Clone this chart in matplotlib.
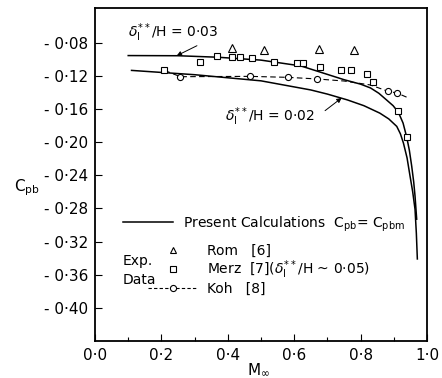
import matplotlib
matplotlib.use('Agg')

import numpy as np
import matplotlib.pyplot as plt
from matplotlib.lines import Line2D

# present calculations, delta/H = 0.03 (upper) and 0.02 (lower)
m_03 = [0.10, 0.25, 0.37, 0.50, 0.62, 0.75, 0.80, 0.83, 0.855, 0.878, 0.898, 0.914,
        0.928, 0.939, 0.947, 0.954, 0.960, 0.964, 0.969]
cpb_03 = [-0.0955, -0.0957, -0.0975, -0.101, -0.108, -0.1246, -0.130, -0.1346, -0.141,
          -0.149, -0.156, -0.164, -0.177, -0.194, -0.210, -0.229, -0.248, -0.265, -0.293]
m_02 = [0.11, 0.30, 0.50, 0.65, 0.70, 0.76, 0.81, 0.858, 0.885, 0.909, 0.920, 0.929,
        0.940, 0.949, 0.957, 0.964, 0.968, 0.971]
cpb_02 = [-0.1134, -0.1186, -0.126, -0.137, -0.142, -0.149, -0.156, -0.165, -0.172,
          -0.181, -0.190, -0.201, -0.219, -0.241, -0.260, -0.281, -0.310, -0.341]

# Rom [6]
m_rom = [0.412, 0.508, 0.676, 0.781]
cpb_rom = [-0.0864, -0.0890, -0.0876, -0.0884]

# Merz [7]
m_merz = [0.208, 0.317, 0.368, 0.412, 0.437, 0.474, 0.539, 0.609, 0.628, 0.678, 0.740,
          0.770, 0.820, 0.838, 0.912, 0.940]
cpb_merz = [-0.1125, -0.1030, -0.0965, -0.0977, -0.0977, -0.0985, -0.1033, -0.1045,
            -0.1045, -0.1093, -0.1130, -0.1125, -0.1173, -0.1273, -0.1630, -0.1940]

# Koh [8] points and the dashed fairing through them
m_koh = [0.257, 0.467, 0.582, 0.668, 0.883, 0.909]
cpb_koh = [-0.1210, -0.1206, -0.1218, -0.1237, -0.1387, -0.1406]
m_koh_line = [0.21, 0.257, 0.467, 0.582, 0.668, 0.75, 0.83, 0.883, 0.909, 0.944]
cpb_koh_line = [-0.1135, -0.1210, -0.1206, -0.1218, -0.1237, -0.1262, -0.1310, -0.1387,
                -0.1406, -0.1466]

xticks = [0.0, 0.2, 0.4, 0.6, 0.8, 1.0]
yticks = [-0.08, -0.12, -0.16, -0.20, -0.24, -0.28, -0.32, -0.36, -0.40]

plt.rcParams['font.family'] = ['DejaVu Sans']
plt.rcParams['mathtext.fontset'] = 'dejavusans'
FS = 10

fig = plt.figure(figsize=(4.42, 3.78), dpi=100)
ax = fig.add_axes([0.215, 0.098, 0.751, 0.881])

ax.plot(m_03, cpb_03, 'k-', lw=1.1)
ax.plot(m_02, cpb_02, 'k-', lw=1.1)
ax.plot(m_koh_line, cpb_koh_line, 'k-', lw=0.8, dashes=(5, 3))
ax.plot(m_koh, cpb_koh, 'o', ms=4.4, mfc='white', mec='k', mew=0.8)
ax.plot(m_merz, cpb_merz, 's', ms=4.4, mfc='white', mec='k', mew=0.8)
ax.plot(m_rom, cpb_rom, '^', ms=5.5, mfc='white', mec='k', mew=0.8)

arrow = dict(arrowstyle='-|>', color='k', lw=0.7, mutation_scale=7, shrinkA=0, shrinkB=0)
ax.annotate('', xy=(0.246, -0.0957), xytext=(0.307, -0.0836), arrowprops=arrow)
ax.text(0.10, -0.068, r'$\delta_{\rm I}^{**}$/H = 0·03', fontsize=FS, va='center')
ax.annotate('', xy=(0.743, -0.1466), xytext=(0.693, -0.1620), arrowprops=arrow)
ax.text(0.392, -0.169, r'$\delta_{\rm I}^{**}$/H = 0·02', fontsize=FS, va='center')

# legend
h1 = [Line2D([], [], color='k', lw=1.1)]
leg1 = ax.legend(h1, [r'Present Calculations  $\mathregular{C_{pb}}$= $\mathregular{C_{pbm}}$'],
                 loc='upper left', bbox_to_anchor=(0.084, 0.38), frameon=False, fontsize=FS,
                 handlelength=3.6, handletextpad=0.75, borderpad=0, borderaxespad=0)
ax.add_artist(leg1)
h2 = [Line2D([], [], ls='none', marker='^', ms=5, mfc='white', mec='k', mew=0.8),
      Line2D([], [], ls='none', marker='s', ms=4.4, mfc='white', mec='k', mew=0.8),
      Line2D([], [], color='k', lw=0.8, dashes=(3, 2), marker='o', ms=4.4,
             mfc='white', mec='k', mew=0.8)]
labels2 = ['Rom   [6]', r'Merz  [7]($\delta_{\rm I}^{**}$/H ~ 0·05)', 'Koh   [8]']
ax.legend(h2, labels2, loc='upper left', bbox_to_anchor=(0.16, 0.292), frameon=False,
          fontsize=FS, handlelength=3.6, handletextpad=0.65, borderpad=0, borderaxespad=0,
          labelspacing=0.05, numpoints=1)
ax.text(0.084, 0.24, 'Exp.', transform=ax.transAxes, fontsize=FS, va='center')
ax.text(0.084, 0.183, 'Data', transform=ax.transAxes, fontsize=FS, va='center')

ax.set_xlim(0, 0.995)
ax.set_ylim(-0.44, -0.038)
ax.set_xticks(xticks)
ax.set_xticklabels([('%.1f' % v).replace('.', '·') for v in xticks])
ax.set_xticks([0.1, 0.3, 0.5, 0.7, 0.9], minor=True)
ax.set_yticks(yticks)
ax.set_yticklabels([('- %.2f' % abs(v)).replace('.', '·') for v in yticks])
ax.tick_params(direction='in', length=5, width=0.8, labelsize=11, pad=5,
               top=False, right=False)
ax.tick_params(which='minor', direction='in', length=3, width=0.8, top=False)
for s in ax.spines.values():
    s.set_linewidth(1.3)

fig.text(27 / 442, 1 - 188 / 378, r'$\mathregular{C_{pb}}$', fontsize=11, ha='center', va='center')
fig.text(258 / 442, 1 - 370 / 378, r'$\mathregular{M_{\infty}}$', fontsize=11, ha='center', va='center')

plt.savefig('out.png', dpi=100)
